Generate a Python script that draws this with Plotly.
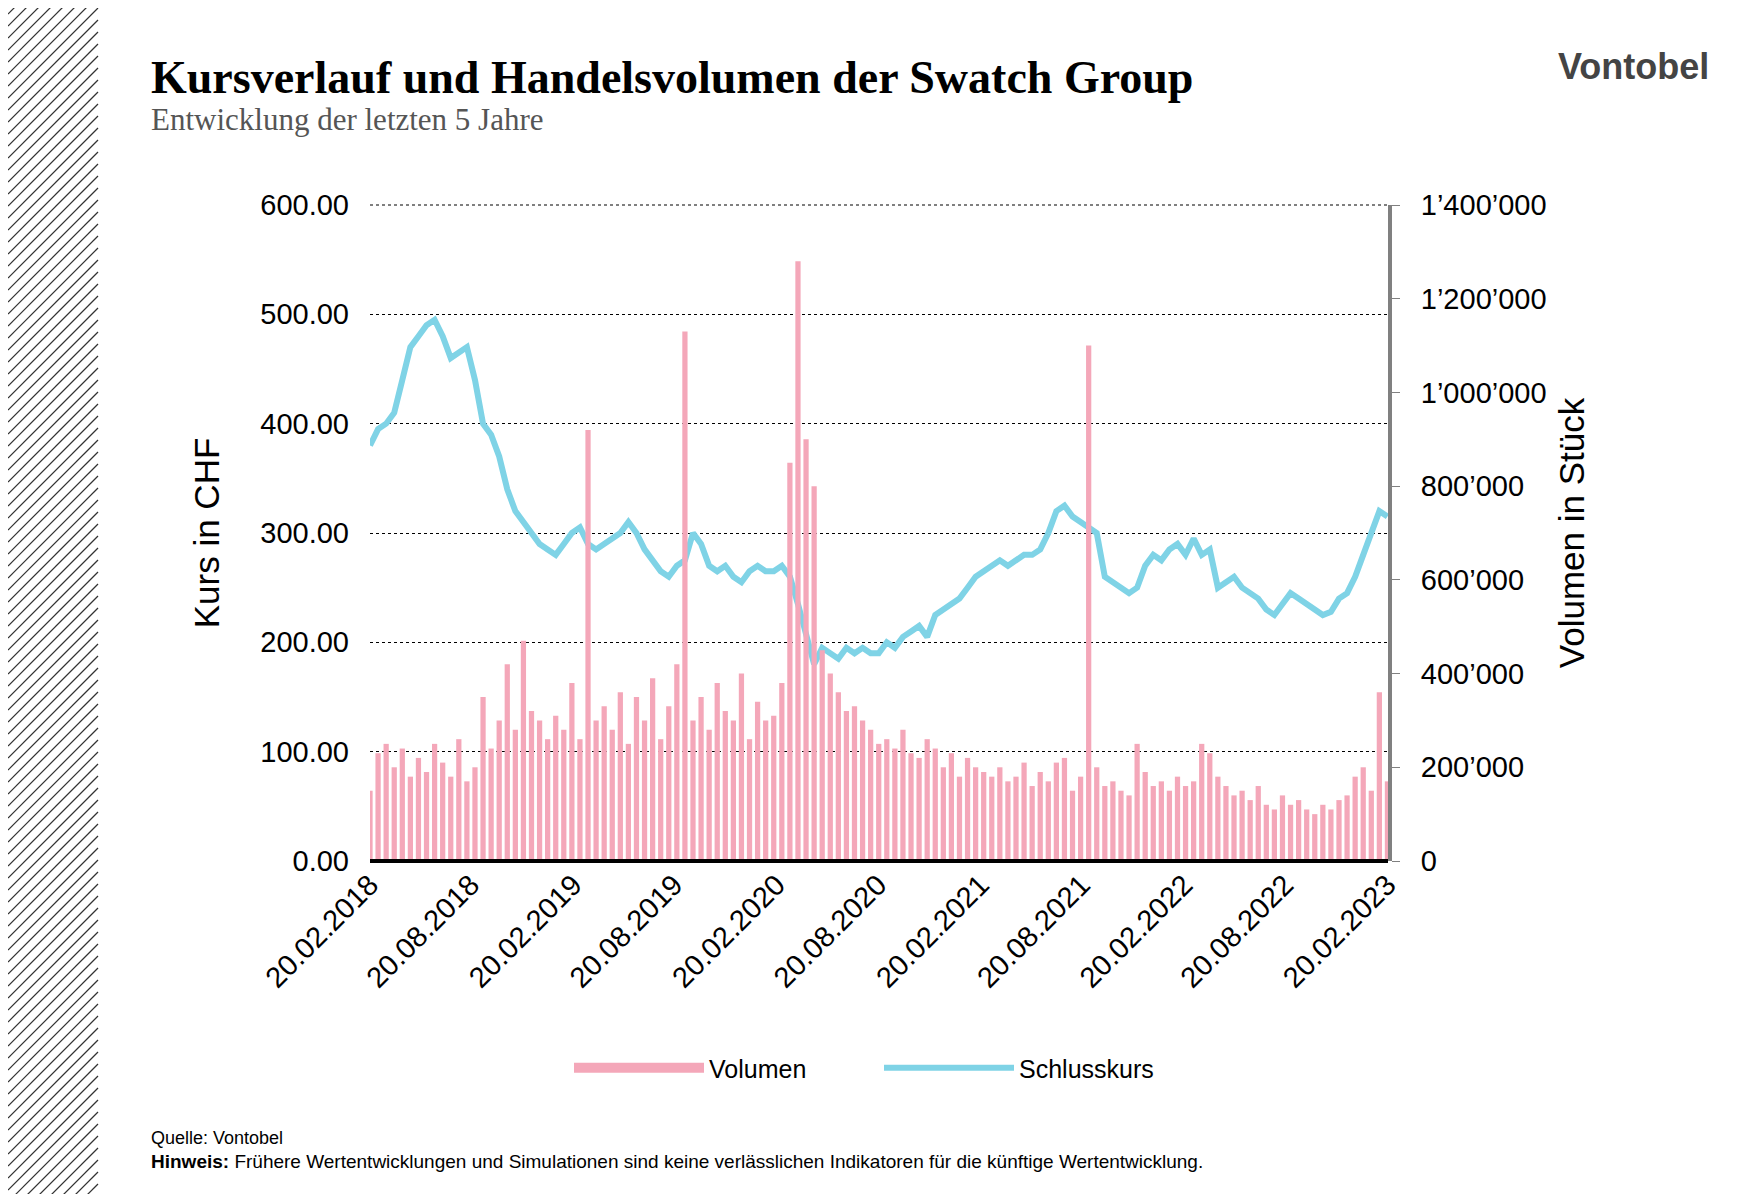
import plotly.graph_objects as go
import pandas as pd

price = [380,395,400,410,440,470,480,490,495,480,460,465,470,440,400,390,370,340,320,310,300,290,285,280,
 290,300,305,290,285,290,295,300,310,300,285,275,265,260,270,275,300,290,270,265,270,260,255,265,270,265,
 265,270,260,235,205,180,195,190,185,195,190,195,190,190,200,195,205,210,215,205,225,230,235,240,250,260,
 265,270,275,270,275,280,280,285,300,320,325,315,310,305,300,260,255,250,245,250,270,280,275,285,290,280,
 295,280,285,250,255,260,250,245,240,230,225,235,245,240,235,230,225,228,240,245,260,280,300,320,315]
volume = [150,230,250,200,240,180,220,190,250,210,180,260,170,200,350,240,300,420,280,470,320,300,260,310,
 280,380,260,920,300,330,280,360,250,350,300,390,260,330,420,1130,300,350,280,380,320,300,400,260,340,300,
 310,380,850,1280,900,800,450,400,360,320,330,300,280,250,260,240,280,230,220,260,240,200,230,180,220,200,
 190,180,200,170,180,210,160,190,170,210,220,150,180,1100,200,160,170,150,140,250,190,160,170,150,180,160,
 170,250,230,180,160,140,150,130,160,120,110,140,120,130,110,100,120,110,130,140,180,200,150,360,170]
volume = [v*1000 for v in volume]
dates = pd.date_range("2018-02-20", "2023-02-20", periods=len(price))
xticks = ["2018-02-20","2018-08-20","2019-02-20","2019-08-20","2020-02-20","2020-08-20",
          "2021-02-20","2021-08-20","2022-02-20","2022-08-20","2023-02-20"]
xticktext = ["20.02.2018","20.08.2018","20.02.2019","20.08.2019","20.02.2020","20.08.2020",
             "20.02.2021","20.08.2021","20.02.2022","20.08.2022","20.02.2023"]
rvals = [0,200000,400000,600000,800000,1000000,1200000,1400000]
rtext = ["0","200’000","400’000","600’000","800’000","1’000’000","1’200’000","1’400’000"]

L, R, T, B = 362, 367, 197, 341
W = 1747 - L - R
H = 1194 - T - B

fig = go.Figure()
fig.add_bar(x=dates, y=volume, name="Volumen", yaxis="y2", marker_color="#f4a7b9", marker_line_width=0,
            showlegend=False)
fig.add_scatter(x=[None], y=[None], name="Volumen", mode="lines", line=dict(color="#f4a7b9", width=14))
fig.add_scatter(x=dates, y=price, name="Schlusskurs", mode="lines", line=dict(color="#7fd3e6", width=6))

shapes = []
for i in range(-10, 120):
    ybot = 1194 - i * 12
    shapes.append(dict(type="line", xref="paper", yref="paper", layer="above",
                       x0=-L/W, y0=(1194 - B - ybot) / H,
                       x1=(90 - L)/W, y1=(1194 - B - (ybot - 90)) / H,
                       line=dict(color="#333", width=1.2)))
shapes.append(dict(type="line", xref="paper", yref="paper", x0=0, x1=1, y0=1, y1=1,
                   line=dict(color="black", width=1, dash="dot")))
shapes.append(dict(type="line", xref="paper", yref="paper", x0=0, x1=1, y0=0, y1=0, line=dict(color="black", width=4)))

def py(y):
    return (1194 - B - y) / H

fig.update_layout(
    width=1747, height=1194, paper_bgcolor="white", plot_bgcolor="white",
    margin=dict(l=L, r=R, t=T, b=B),
    font=dict(family="Liberation Sans, Arial", size=29, color="black"),
    bargap=0.35, showlegend=True, shapes=shapes,
    legend=dict(orientation="h", x=0.5, xanchor="center", y=py(1060), yanchor="middle",
                font=dict(size=25), itemwidth=130, entrywidth=165),
    xaxis=dict(range=["2018-02-20", "2023-02-21"], tickvals=xticks, ticktext=xticktext, tickangle=-45,
               showgrid=False, ticks="", tickfont=dict(size=29)),
    yaxis=dict(range=[0, 600], dtick=100, tickformat=".2f", showgrid=True, gridcolor="black", griddash="dot",
               gridwidth=1, title=dict(text="Kurs in CHF", standoff=30), zeroline=False, ticks="",
               ticklabelstandoff=20),
    yaxis2=dict(range=[0, 1400000], overlaying="y", side="right", tickvals=rvals, ticktext=rtext,
                showgrid=False, showline=True, linecolor="#808080", linewidth=4, ticks="outside",
                ticklen=8, tickcolor="#808080", ticklabelstandoff=15,
                title=dict(text="Volumen in Stück", standoff=15)),
    annotations=[
        dict(text="<b>Kursverlauf und Handelsvolumen der Swatch Group</b>", xref="paper", yref="paper",
             x=-(L-141)/W, y=py(69), xanchor="left", yanchor="middle", showarrow=False,
             font=dict(family="Liberation Serif", size=46)),
        dict(text="Entwicklung der letzten 5 Jahre", xref="paper", yref="paper",
             x=-(L-141)/W, y=py(112), xanchor="left", yanchor="middle", showarrow=False,
             font=dict(family="Liberation Serif", size=31, color="#555")),
        dict(text="<b>Vontobel</b>", xref="paper", yref="paper", x=(1703-L)/W, y=py(58),
             xanchor="right", yanchor="middle", showarrow=False, font=dict(size=36, color="#444")),
        dict(text="Quelle: Vontobel", xref="paper", yref="paper", x=-(L-141)/W, y=py(1130),
             xanchor="left", yanchor="middle", showarrow=False, font=dict(size=18)),
        dict(text="<b>Hinweis:</b> Frühere Wertentwicklungen und Simulationen sind keine verlässlichen Indikatoren für die künftige Wertentwicklung.",
             xref="paper", yref="paper", x=-(L-141)/W, y=py(1153),
             xanchor="left", yanchor="middle", showarrow=False, font=dict(size=19)),
    ],
)
fig.write_html("out.html")
